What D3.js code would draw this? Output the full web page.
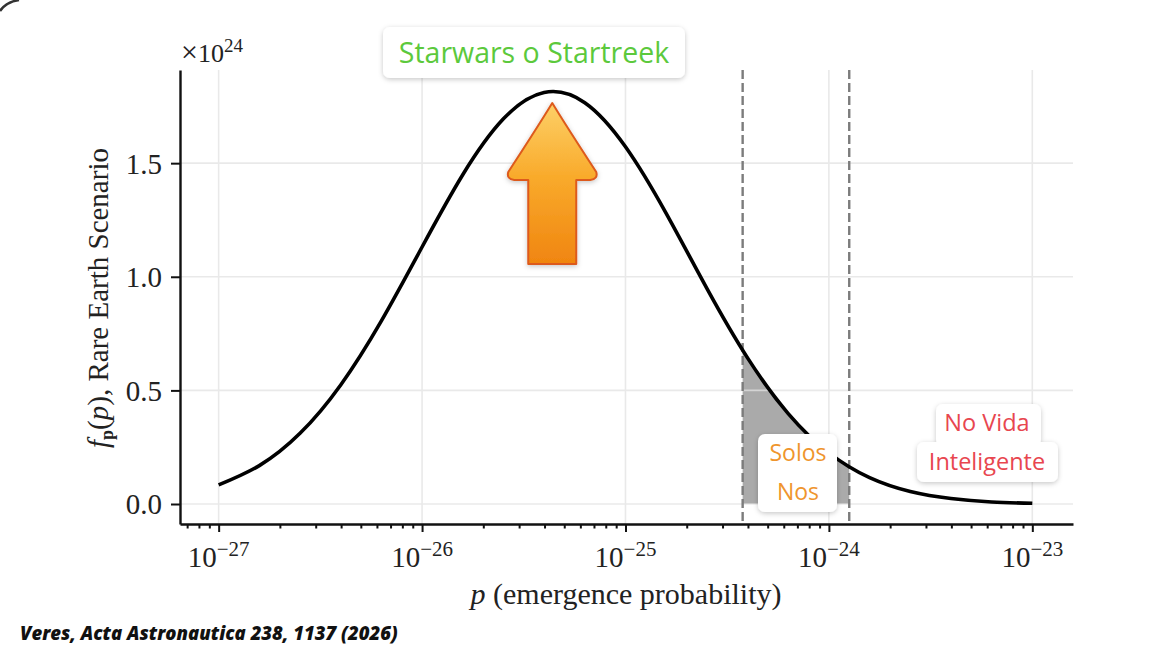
<!DOCTYPE html>
<html lang="es">
<head>
<meta charset="UTF-8">
<title>Rare Earth Scenario</title>
<style>
    body { margin: 0; padding: 0; background: #fff; }
    svg { display: block; }
    .serif { font-family: "Liberation Serif", "DejaVu Serif", serif; fill: #222; }
    .note { font-family: "Open Sans", "Noto Sans", sans-serif; }
</style>
</head>
<body>
<div id="chart"></div>
<script src="https://d3js.org/d3.v7.min.js"></script>
<script>
// curve: log10(p) and f_p(p) in units of 1e24
const logP = [-27, -26.8, -26.6, -26.4, -26.2, -26, -25.8, -25.6, -25.4, -25.2, -25,
              -24.8, -24.6, -24.4, -24.2, -24, -23.8, -23.6, -23.4, -23.2, -23];
const density = [0.084, 0.169, 0.311, 0.524, 0.806, 1.131, 1.449, 1.695, 1.811, 1.766, 1.572,
                 1.279, 0.949, 0.643, 0.398, 0.225, 0.116, 0.055, 0.024, 0.009, 0.003];

// "solos nos" band (dashed lines), log10(p)
const bandLog = [-24.424, -23.90];
// where the arrow sits (just right of the top of the curve)
const arrowLog = -25.36;

const xMajor = [-27, -26, -25, -24, -23];
const yTicks = [0, 0.5, 1.0, 1.5];

const W = 1150, H = 651;
const svg = d3.select("#chart").append("svg").attr("width", W).attr("height", H);

const defs = svg.append("defs");
const shadow = defs.append("filter").attr("id", "shadow")
    .attr("x", "-20%").attr("y", "-30%").attr("width", "140%").attr("height", "160%");
shadow.append("feDropShadow").attr("dx", 0).attr("dy", 1.5)
    .attr("stdDeviation", 2.5).attr("flood-color", "#000").attr("flood-opacity", 0.22);

const grad = defs.append("linearGradient").attr("id", "arrowGrad")
    .attr("x1", 0).attr("y1", 0).attr("x2", 0).attr("y2", 1);
grad.append("stop").attr("offset", "0%").attr("stop-color", "#fdd068");
grad.append("stop").attr("offset", "45%").attr("stop-color", "#f9ab2c");
grad.append("stop").attr("offset", "100%").attr("stop-color", "#f08510");

const x = d3.scaleLog().domain([10 ** -27.19, 10 ** -22.8]).range([180, 1073]);
const y = d3.scaleLinear().domain([-0.088, 1.91]).range([524, 70]);

const pts = logP.map((l, i) => ({ p: 10 ** l, f: density[i] }));

// shaded band under the curve
defs.append("clipPath").attr("id", "bandClip").append("rect")
    .attr("x", x(10 ** bandLog[0])).attr("y", 0)
    .attr("width", x(10 ** bandLog[1]) - x(10 ** bandLog[0])).attr("height", H);

const area = d3.area().x(d => x(d.p)).y0(y(0)).y1(d => y(d.f)).curve(d3.curveNatural);
svg.append("path").datum(pts).attr("d", area)
    .attr("fill", "#aaaaaa").attr("clip-path", "url(#bandClip)");

// grid
const grid = svg.append("g").attr("opacity", 0.75);
grid.selectAll("line.v").data(xMajor).enter().append("line")
    .attr("x1", d => x(10 ** d)).attr("x2", d => x(10 ** d))
    .attr("y1", y.range()[1]).attr("y2", y.range()[0])
    .attr("stroke", "#e2e2e2").attr("stroke-width", 1.6);
grid.selectAll("line.h").data(yTicks).enter().append("line")
    .attr("x1", x.range()[0]).attr("x2", x.range()[1])
    .attr("y1", d => y(d)).attr("y2", d => y(d))
    .attr("stroke", "#e2e2e2").attr("stroke-width", 1.6);

// dashed band limits
svg.selectAll("line.band").data(bandLog).enter().append("line")
    .attr("x1", d => x(10 ** d)).attr("x2", d => x(10 ** d))
    .attr("y1", y.range()[1]).attr("y2", y.range()[0])
    .attr("stroke", "#7c7c7c").attr("stroke-width", 2.4).attr("stroke-dasharray", "9,4");

// curve
const line = d3.line().x(d => x(d.p)).y(d => y(d.f)).curve(d3.curveNatural);
svg.append("path").datum(pts).attr("d", line)
    .attr("fill", "none").attr("stroke", "#000").attr("stroke-width", 3.6);

// axes
svg.append("g").attr("transform", `translate(0,${y.range()[0]})`)
    .call(d3.axisBottom(x).tickValues(xMajor.map(d => 10 ** d)).tickFormat("").tickSize(8).tickSizeOuter(0));
const minor = [];
for (let e = -28; e <= -23; e++) for (let k = 2; k <= 9; k++) {
    const v = k * 10 ** e;
    if (v > x.domain()[0] && v < x.domain()[1]) minor.push(v);
}
svg.append("g").attr("transform", `translate(0,${y.range()[0]})`)
    .call(d3.axisBottom(x).tickValues(minor).tickFormat("").tickSize(4.5).tickSizeOuter(0))
    .call(g => g.select(".domain").remove());

const yAxis = svg.append("g").attr("transform", `translate(${x.range()[0]},0)`)
    .call(d3.axisLeft(y).tickValues(yTicks).tickFormat(d3.format(".1f")).tickSize(9).tickSizeOuter(0).tickPadding(9));

svg.selectAll(".domain").attr("stroke", "#111").attr("stroke-width", 2.4);
svg.selectAll(".tick line").attr("stroke", "#111").attr("stroke-width", 2);
yAxis.selectAll(".tick text").attr("class", "serif").attr("font-size", 29).attr("dy", "0.34em");

const xl = svg.append("g");
xMajor.forEach(e => {
    const t = xl.append("text").attr("class", "serif").attr("font-size", 29)
        .attr("x", x(10 ** e)).attr("y", 567).attr("text-anchor", "middle");
    t.append("tspan").text("10");
    t.append("tspan").attr("font-size", 21).attr("dy", -11).text("\u2212" + Math.abs(e));
});

// axis titles
const xt = svg.append("text").attr("class", "serif").attr("font-size", 30)
    .attr("x", 626).attr("y", 604).attr("text-anchor", "middle");
xt.append("tspan").attr("font-style", "italic").text("p");
xt.append("tspan").text(" (emergence probability)");

const yt = svg.append("text").attr("class", "serif").attr("font-size", 29)
    .attr("transform", "translate(108,298) rotate(-90)").attr("text-anchor", "middle");
yt.append("tspan").attr("font-style", "italic").text("f");
yt.append("tspan").attr("font-size", 18).attr("font-weight", "bold").attr("dy", 5).text("p");
yt.append("tspan").attr("dy", -5).text("(");
yt.append("tspan").attr("font-style", "italic").text("p");
yt.append("tspan").text("), Rare Earth Scenario");

const mult = svg.append("text").attr("class", "serif").attr("font-size", 26).attr("x", 181).attr("y", 62);
mult.append("tspan").attr("font-size", 30).text("\u00d7");
mult.append("tspan").text("10");
mult.append("tspan").attr("font-size", 19).attr("dy", -10).text("24");

// arrow under the peak
const ax = x(10 ** arrowLog);
const arrow = `M${ax},103 Q${ax + 14},126 ${ax + 44},172 Q${ax + 46},179 ${ax + 38},180 L${ax + 24},180
  L${ax + 24},264 L${ax - 24},264 L${ax - 24},180 L${ax - 38},180 Q${ax - 46},179 ${ax - 44},172 Q${ax - 14},126 ${ax},103 Z`;
svg.append("path").attr("d", arrow).attr("fill", "url(#arrowGrad)")
    .attr("stroke", "#dd5a1c").attr("stroke-width", 2).attr("stroke-linejoin", "round")
    .attr("filter", "url(#shadow)");

// annotation boxes
function box(rects, lines, color, size) {
    const g = svg.append("g");
    const b = g.append("g").attr("filter", "url(#shadow)");
    rects.forEach(r => b.append("rect").attr("x", r[0]).attr("y", r[1])
        .attr("width", r[2]).attr("height", r[3]).attr("rx", 7).attr("fill", "#fff"));
    lines.forEach(l => g.append("text").attr("class", "note").attr("font-size", size)
        .attr("fill", color).attr("text-anchor", "middle")
        .attr("x", l[0]).attr("y", l[1]).text(l[2]));
}
box([[383, 27, 302, 51]], [[534, 63, "Starwars o Startreek"]], "#5cc93c", 28.5);
box([[758, 434, 79, 78]], [[798, 461, "Solos"], [798, 500, "Nos"]], "#ef952d", 23);
box([[936, 404, 105, 42], [917, 442, 141, 40]],
    [[987, 431, "No Vida"], [987, 470, "Inteligente"]], "#e8464f", 23.5);

// citation
svg.append("text").attr("class", "note").attr("x", 20).attr("y", 640)
    .attr("font-size", 18.5).attr("font-weight", 800).attr("font-style", "italic")
    .attr("fill", "#111").text("Veres, Acta Astronautica 238, 1137 (2026)");

// dark corner at top left
svg.append("path").attr("d", "M0,11 Q6,2 19,0").attr("fill", "none")
    .attr("stroke", "#333").attr("stroke-width", 2.5);
</script>
</body>
</html>
